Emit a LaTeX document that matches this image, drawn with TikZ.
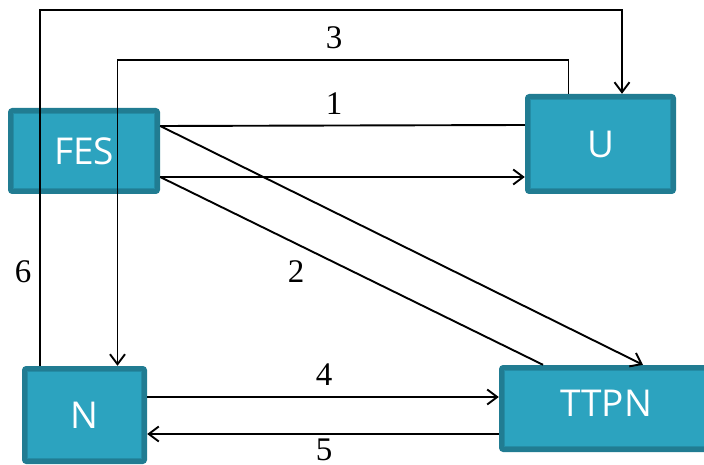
\documentclass[tikz,border=0pt]{standalone}
\usepackage{fontspec}
\setmainfont{Liberation Serif}
\newfontfamily\boxfont{Open Sans}
\usetikzlibrary{arrows.meta}

\definecolor{tealdark}{RGB}{33,124,146}
\definecolor{tealfill}{RGB}{44,163,191}
\definecolor{tealline}{RGB}{36,140,165}

\tikzset{
  block/.style={
    rectangle, rounded corners=4pt, fill=tealdark, draw=none,
    inner sep=0pt, text=white, font=\boxfont\fontsize{37}{40}\selectfont,
    path picture={
      \draw[fill=tealfill, draw=tealline, line width=1.6pt, sharp corners]
        ([shift={(5.5pt,5.5pt)}]path picture bounding box.south west)
        rectangle ([shift={(-5.5pt,-5.5pt)}]path picture bounding box.north east);
    }
  },
  link/.style={line width=1.9pt, black},
  arr/.style={link, -{Straight Barb[length=10pt,width=15pt]}},
  num/.style={font=\fontsize{33}{36}\selectfont, inner sep=0pt}
}

\begin{document}
\begin{tikzpicture}[x=1pt,y=-1pt]
  \useasboundingbox (0,0) rectangle (704,465);

  % blocks
  \node[block, minimum width=152pt, minimum height=86pt] (FES) at (84,151) {FES};
  \node[block, minimum width=151pt, minimum height=100pt] (U) at (600.5,144) {U};
  \node[block, minimum width=125pt, minimum height=98pt] (N) at (84.5,415) {N};
  \node[block, minimum width=211pt, minimum height=87pt] (T) at (604.5,408.5) {};
  \node[text=white, font=\boxfont\fontsize{37}{40}\selectfont, inner sep=0pt] (Tlabel) at (606,403) {TTPN};

  % routing points above the blocks
  \coordinate (r6) at (330,10);
  \coordinate (r3) at (340,60);

  % connectors
  \draw[link] ([yshift=19pt]U.west) -- ([yshift=25pt]FES.east);
  \draw[arr]  ([yshift=-26pt]FES.east) -- ([yshift=-33pt]U.west);
  \draw[arr]  ([yshift=25pt]FES.east) -- ([xshift=38.5pt]T.north);
  \draw[link] ([xshift=-61.5pt]T.north) -- ([yshift=-26pt]FES.east);
  \draw[arr]  ([xshift=-32pt]U.north) |- (r3) -| ([xshift=33pt]N.north);
  \draw[arr]  ([xshift=-44.5pt]N.north) |- (r6) -| ([xshift=21.5pt]U.north);
  \draw[arr]  ([yshift=18pt]N.east) -- ([yshift=11.5pt]T.west);
  \draw[arr]  ([yshift=-25.5pt]T.west) -- ([yshift=-19pt]N.east);

  % labels
  \node[num] (l1) at (334,103.5) {1};
  \node[num] (l2) at (296,272) {2};
  \node[num] (l3) at (334,38) {3};
  \node[num] (l4) at (324,375) {4};
  \node[num] (l5) at (324,449.5) {5};
  \node[num] (l6) at (23,272) {6};
\end{tikzpicture}
\end{document}
